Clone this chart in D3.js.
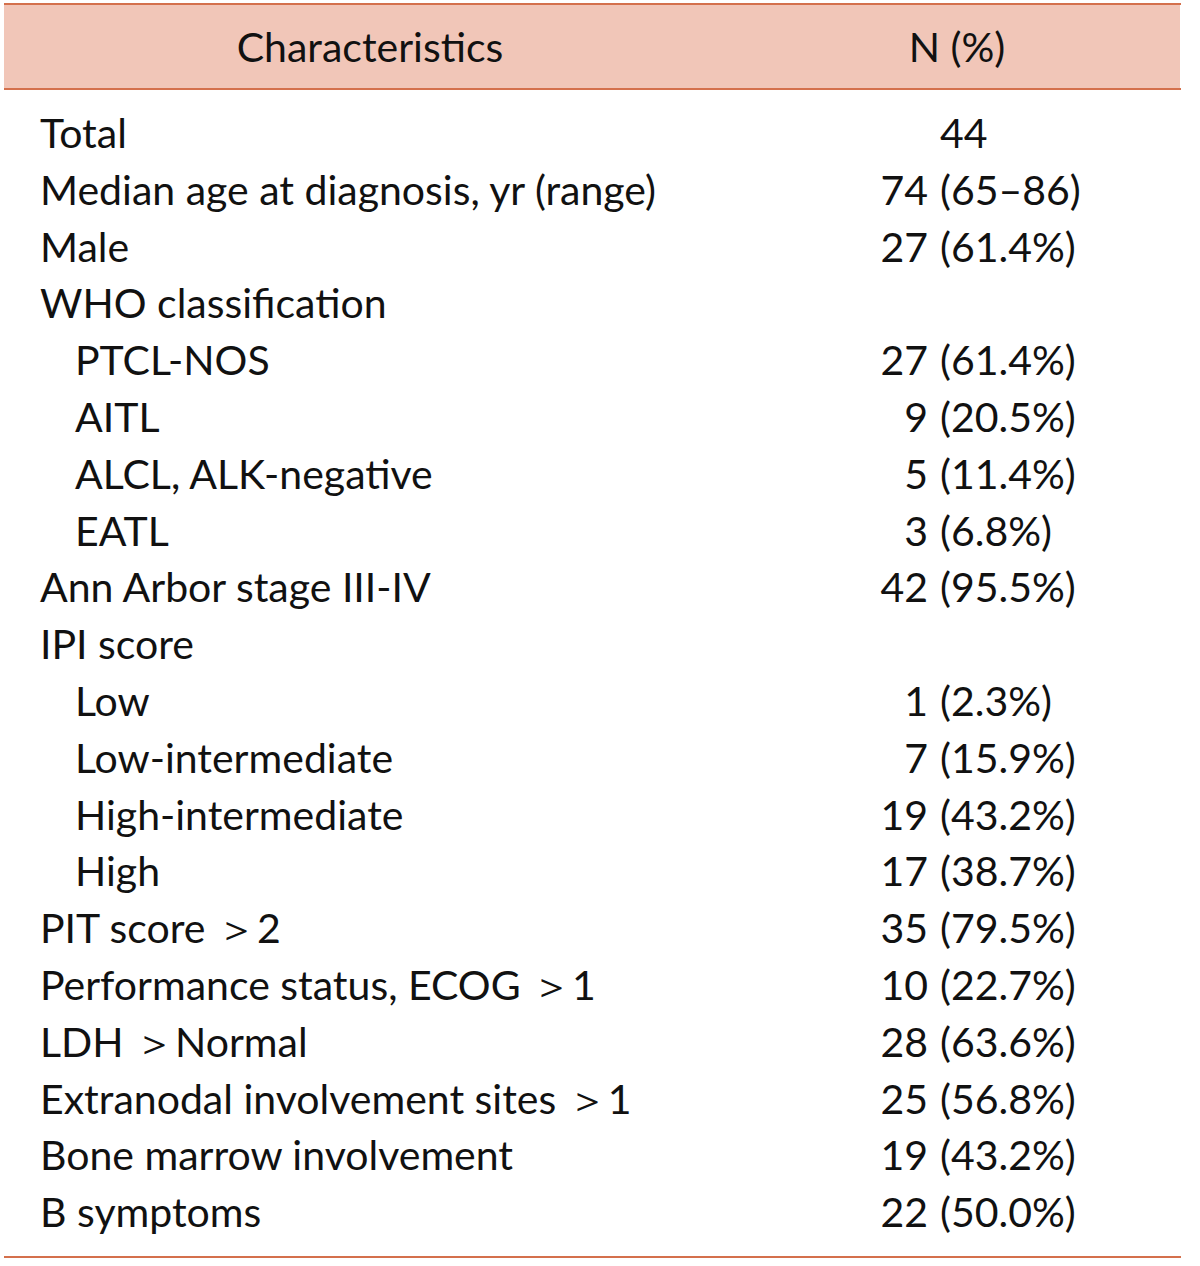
<!DOCTYPE html>
<html><head><meta charset="utf-8">
<script src="https://cdn.jsdelivr.net/npm/d3@7"></script>
<style>body{margin:0;background:#fff}svg{display:block}</style>
</head><body>
<svg id="chart" width="1200" height="1266"></svg>
<script>
const headers = ["Characteristics", "N (%)"];
const labels = ["Total","Median age at diagnosis, yr (range)","Male","WHO classification","PTCL-NOS","AITL","ALCL, ALK-negative","EATL","Ann Arbor stage III-IV","IPI score","Low","Low-intermediate","High-intermediate","High","PIT score \uFF1E2","Performance status, ECOG \uFF1E1","LDH \uFF1ENormal","Extranodal involvement sites \uFF1E1","Bone marrow involvement","B symptoms"];
const indent = [0,0,0,0,1,1,1,1,0,0,1,1,1,1,0,0,0,0,0,0];
const counts = ["44","74","27","","27","9","5","3","42","","1","7","19","17","35","10","28","25","19","22"];
const details = ["","(65\u201386)","(61.4%)","","(61.4%)","(20.5%)","(11.4%)","(6.8%)","(95.5%)","","(2.3%)","(15.9%)","(43.2%)","(38.7%)","(79.5%)","(22.7%)","(63.6%)","(56.8%)","(43.2%)","(50.0%)"];

const svg = d3.select("#chart");
const font = "Lato, 'Open Sans', sans-serif";
const lineColor = "#d4704c", fillColor = "#f1c6b8";
const fs = 41;

const y = d3.scaleBand().domain(d3.range(labels.length)).range([107.6, 1243.6]).paddingInner(0);
const x = d3.scaleLinear().domain([0,1]).range([4, 1181]);

svg.append("rect").attr("x", x(0)).attr("y", 4).attr("width", 1180 - x(0)).attr("height", 85).attr("fill", fillColor);
[4, 89, 1257].forEach(v => svg.append("line").attr("x1", x(0)).attr("x2", x(1)).attr("y1", v).attr("y2", v)
  .attr("stroke", lineColor).attr("stroke-width", 2));

svg.append("text").attr("x", 370).attr("y", 62).attr("text-anchor","middle").attr("font-family",font).attr("font-size",fs).attr("fill","#111").text(headers[0]);
svg.append("text").attr("x", 957).attr("y", 62).attr("text-anchor","middle").attr("font-family",font).attr("font-size",fs).attr("fill","#111").text(headers[1]);

const rows = svg.selectAll("g.row").data(labels).join("g").attr("class","row")
  .attr("transform", (d,i) => `translate(0,${y(i) + y.bandwidth()/2 + 12})`);
rows.append("text").attr("x", (d,i) => indent[i] ? 75 : 40).attr("font-family",font).attr("font-size",fs).attr("fill","#111").text(d => d);
rows.append("text").attr("x", (d,i) => i === 0 ? 940 : 928).attr("text-anchor", (d,i) => i === 0 ? "start" : "end")
  .attr("font-family",font).attr("font-size",fs).attr("fill","#111").text((d,i) => counts[i]);
rows.append("text").attr("x", 940).attr("font-family",font).attr("font-size",fs).attr("fill","#111").text((d,i) => details[i]);
</script>
</body></html>
